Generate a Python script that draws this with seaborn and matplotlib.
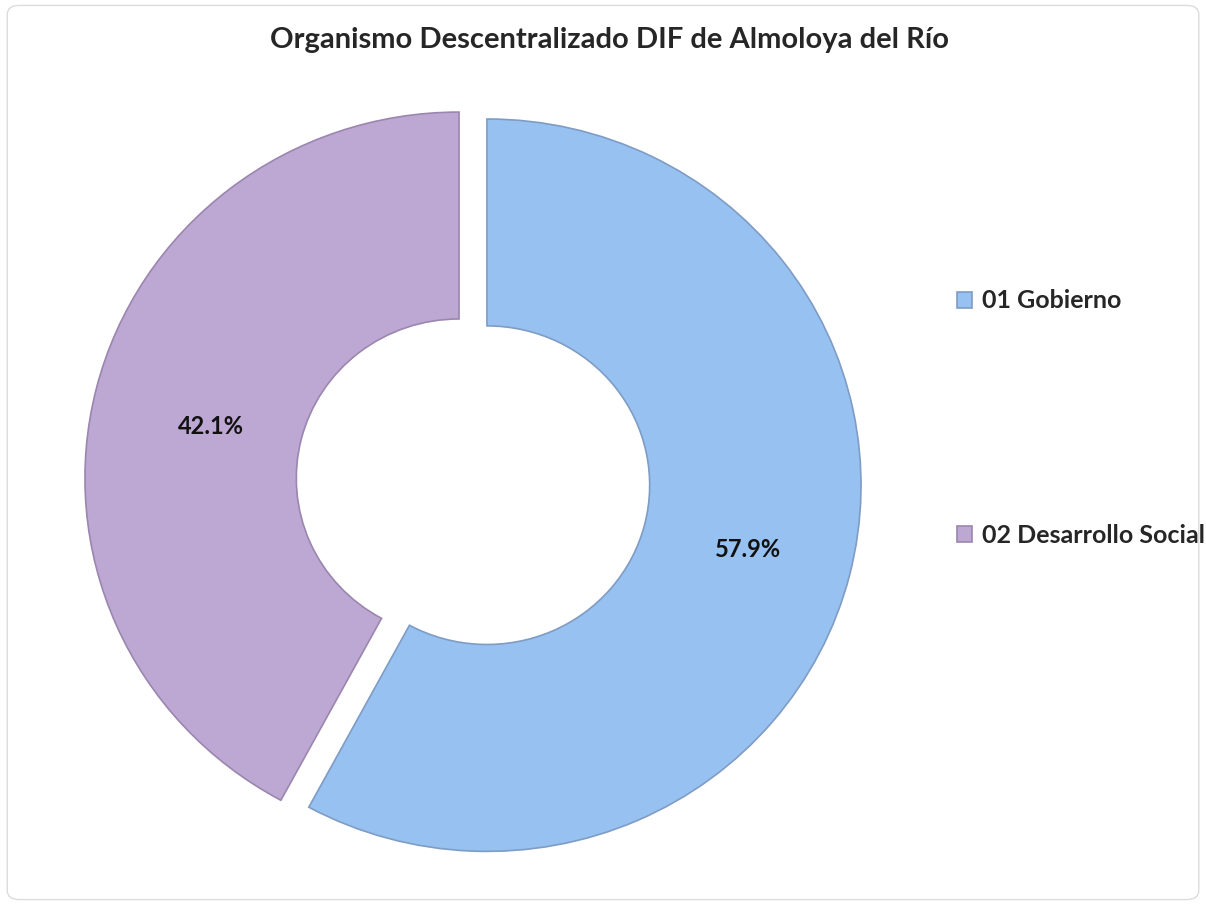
import matplotlib
matplotlib.use('Agg')
import matplotlib.pyplot as plt
from matplotlib.patches import FancyBboxPatch
import seaborn as sns

sns.set_theme(style='white')
plt.rcParams['font.family'] = ['Lato', 'DejaVu Sans']

# data
labels = ['01 Gobierno', '02 Desarrollo Social']
values = [57.9, 42.1]
colors = ['#97C1F0', '#BDA8D3']
edges = ['#7f9cc4', '#9a86ae']
title = 'Organismo Descentralizado DIF de Almoloya del Río'

fig = plt.figure(figsize=(12.06, 9.05), dpi=100)

# chart area border
fig.patches.append(FancyBboxPatch((0.006, 0.006), 0.988, 0.988, boxstyle='round,pad=0,rounding_size=0.01',
                                  transform=fig.transFigure, fill=False, edgecolor='#dcdcdc', linewidth=1))

# donut is slightly squashed vertically in the original
ax = fig.add_axes([0.051, 0.0226, 0.6824, 0.8902])
wedges, texts, autotexts = ax.pie(values, colors=colors, startangle=90, counterclock=False,
                                  explode=[0.0385, 0.0385], autopct='%.1f%%', pctdistance=0.72,
                                  wedgeprops=dict(width=0.565, linewidth=1.2),
                                  textprops=dict(fontsize=17, fontweight='bold', color='#111111'))
for w, ec in zip(wedges, edges):
    w.set_edgecolor(ec)
autotexts[1].set_position((-0.70, 0.15))
ax.set_xlim(-1.1, 1.1)
ax.set_ylim(-1.1, 1.1)
ax.set_aspect('auto')
ax.axis('off')

fig.text(0.505, 0.956, title, ha='center', va='center', fontsize=21, fontweight='bold')

fig.legend(wedges, labels, loc='center left', bbox_to_anchor=(0.7830, 0.538), frameon=False,
           prop=dict(size=18, weight='bold'), handlelength=0.6, handleheight=0.6,
           handletextpad=0.4, labelspacing=8.45, borderpad=0)

fig.savefig('out.png', dpi=100)
